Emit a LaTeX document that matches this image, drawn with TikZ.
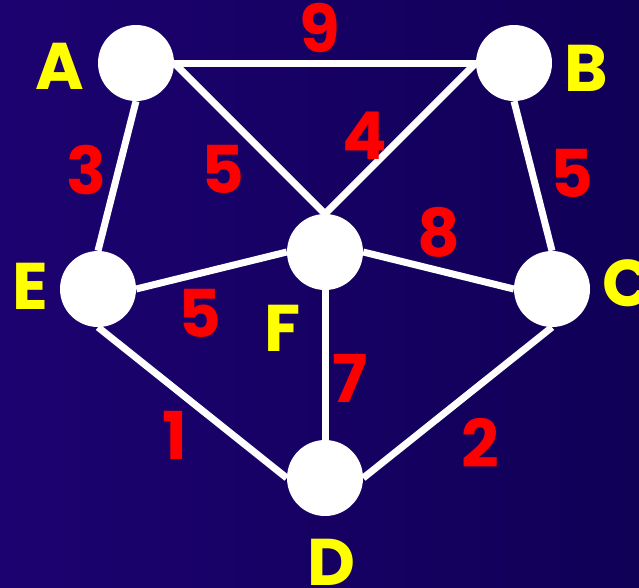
\documentclass[tikz,border=0pt]{standalone}
\usepackage{fontspec}
\setmainfont{Poppins}
\definecolor{bgleft}{RGB}{28,2,112}
\definecolor{bgright}{RGB}{16,0,86}
\definecolor{lbl}{RGB}{255,255,0}
\definecolor{wt}{RGB}{255,0,0}
\tikzset{
  vertex/.style={circle,fill=white,minimum size=76pt,inner sep=0pt},
  edge/.style={draw=white,line width=7pt},
  vname/.style={text=lbl,font=\fontsize{66}{66}\selectfont\bfseries,inner sep=0pt},
  weight/.style={text=wt,font=\fontsize{66}{66}\selectfont\bfseries,inner sep=0pt}
}
\begin{document}
\begin{tikzpicture}[x=1pt,y=-1pt]
\useasboundingbox (0,0) rectangle (639,587);
\shade[left color=bgleft,right color=bgright] (0,0) rectangle (639,587);
\node[vertex] (A) at (136,63) {};
\node[vertex] (B) at (514,63) {};
\node[vertex] (E) at (98,289) {};
\node[vertex] (F) at (325,252) {};
\node[vertex] (C) at (552,289) {};
\node[vertex] (D) at (325,478) {};
\draw[edge] (A.east) -- (B.west);
\draw[edge] (A.east) -- (F.north);
\draw[edge] (B.west) -- (F.north);
\draw[edge] (A.south) -- (E.north);
\draw[edge] (B.south) -- (C.north);
\draw[edge] (E.east) -- (F.west);
\draw[edge] (F.east) -- (C.west);
\draw[edge] (F.south) -- (D.north);
\draw[edge] (E.south) -- (D.west);
\draw[edge] (C.south) -- (D.east);
\node[vname] (lA) at (60,66) {A};
\node[vname] (lB) at (586,68) {B};
\node[vname] (lE) at (30,286) {E};
\node[vname] (lF) at (283,328) {F};
\node[vname,anchor=west] (lC) at (602,283) {C};
\node[vname] (lD) at (331,562) {D};
\node[weight] (w9) at (320,28) {9};
\node[weight] (w4) at (365,136) {4};
\node[weight] (w5a) at (223,169) {5};
\node[weight] (w3) at (86,170) {3};
\node[weight] (w5b) at (572,173) {5};
\node[weight] (w8) at (439,232) {8};
\node[weight] (w5c) at (200,313) {5};
\node[weight] (w7) at (350,378) {7};
\node[weight] (w1) at (175,435) {1};
\node[weight] (w2) at (480,443) {2};
\end{tikzpicture}
\end{document}
